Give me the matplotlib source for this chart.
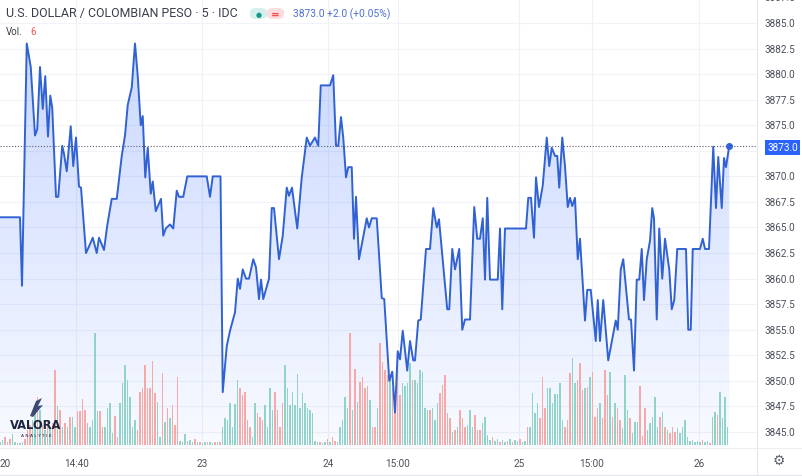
import matplotlib
matplotlib.use('Agg')
import matplotlib.pyplot as plt
import numpy as np
from matplotlib.patches import FancyBboxPatch, Polygon, Rectangle
from matplotlib.lines import Line2D
import matplotlib.transforms as mtransforms

# ---------------- data ----------------
title = "U.S. DOLLAR / COLOMBIAN PESO · 5 · IDC"
last_text = "3873.0 +2.0 (+0.05%)"
last_price = 3873.0

# line vertices: bar index, price
price_x = [0.0, 8.0, 8.8, 10.7, 12.3, 14.0, 14.9, 16.0, 17.1, 18.1, 19.2, 20.1, 20.9, 22.4, 23.3,
           24.9, 25.6, 26.7, 28.3, 29.3, 30.4, 31.6, 32.4, 34.4, 35.7, 37.1, 38.7, 39.6, 41.6, 42.9,
           44.7, 46.7, 48.7, 50.0, 51.1, 52.7, 54.0, 55.1, 56.3, 57.1, 58.1, 59.1, 60.3, 61.1, 62.3,
           64.4, 65.3, 66.3, 68.0, 69.3, 70.7, 71.6, 73.3, 74.9, 82.7, 84.0, 85.1, 88.2, 89.1, 90.7,
           92.0, 94.0, 95.1, 96.0, 97.1, 98.4, 99.6, 101.3, 102.4, 103.6, 104.4, 105.3, 107.6, 108.7,
           109.6, 111.6, 113.1, 114.7, 115.6, 116.8, 118.9, 120.7, 122.7, 124.0, 126.0, 127.3, 128.3,
           132.0, 133.3, 134.4, 135.3, 136.4, 137.3, 138.4, 139.3, 140.7, 141.6, 142.4, 143.6, 146.7,
           147.6, 148.7, 150.7, 152.7, 153.7, 155.7, 156.9, 158.0, 159.1, 160.0, 161.1, 162.9, 164.0,
           165.3, 166.0, 167.3, 168.3, 170.4, 172.0, 173.3, 174.7, 175.6, 178.9, 179.7, 180.9, 182.0,
           183.7, 184.9, 186.0, 188.0, 189.7, 190.9, 192.0, 193.1, 194.0, 194.9, 196.0, 199.1, 200.0,
           200.9, 202.0, 210.4, 211.3, 212.4, 213.6, 214.4, 215.6, 217.1, 218.7, 219.7, 220.7, 222.0,
           222.9, 223.7, 224.9, 226.0, 227.1, 228.0, 228.9, 230.0, 231.1, 232.0, 234.0, 234.9, 236.3,
           238.3, 239.1, 240.0, 241.3, 243.3, 246.3, 247.1, 248.3, 249.3, 251.6, 252.4, 253.6, 254.7,
           255.7, 256.7, 257.6, 258.7, 260.0, 260.9, 261.6, 262.7, 263.7, 264.9, 266.0, 267.7, 268.7,
           269.7, 270.9, 274.4, 275.3, 276.3, 277.1, 280.0, 281.1, 282.0, 283.6, 285.3, 286.4, 287.3,
           288.7, 289.6, 290.4, 291.7]
price_y = [3866.0, 3866.0, 3859.3, 3883.0, 3880.7, 3874.0, 3874.6, 3880.7, 3876.6, 3879.8, 3873.9,
           3877.9, 3876.7, 3868.0, 3868.0, 3873.0, 3872.2, 3870.5, 3874.9, 3871.0, 3873.8, 3869.0,
           3868.9, 3862.5, 3863.2, 3864.0, 3862.5, 3864.0, 3862.8, 3865.2, 3867.8, 3867.8, 3872.0,
           3874.0, 3877.0, 3878.7, 3883.0, 3879.8, 3875.0, 3875.9, 3869.9, 3872.8, 3868.3, 3869.5,
           3866.6, 3867.8, 3864.2, 3864.9, 3865.3, 3864.9, 3868.6, 3868.0, 3868.0, 3870.0, 3870.0,
           3868.0, 3870.0, 3870.0, 3848.9, 3853.4, 3854.9, 3856.7, 3860.0, 3859.0, 3860.9, 3860.0,
           3860.0, 3861.9, 3861.1, 3858.0, 3859.9, 3858.0, 3860.0, 3866.9, 3866.9, 3861.9, 3864.2,
           3868.9, 3868.1, 3868.9, 3864.9, 3869.9, 3873.8, 3873.0, 3873.8, 3873.0, 3878.9, 3878.9,
           3879.9, 3873.0, 3873.0, 3875.8, 3873.8, 3869.9, 3870.9, 3870.9, 3863.9, 3868.0, 3861.9,
           3865.9, 3865.0, 3865.9, 3865.9, 3858.1, 3858.0, 3850.0, 3850.9, 3846.9, 3852.9, 3852.1,
           3854.9, 3851.0, 3853.9, 3852.0, 3852.0, 3855.9, 3856.0, 3862.9, 3862.9, 3866.9, 3865.0,
           3865.8, 3857.0, 3857.0, 3862.9, 3860.9, 3862.9, 3855.0, 3856.0, 3856.0, 3867.0, 3863.9,
           3863.9, 3865.9, 3859.9, 3867.9, 3859.9, 3859.9, 3864.9, 3857.0, 3864.9, 3864.9, 3867.9,
           3867.9, 3864.0, 3869.9, 3867.0, 3869.1, 3873.8, 3871.0, 3872.8, 3872.0, 3872.0, 3868.9,
           3873.8, 3871.0, 3867.0, 3867.9, 3867.1, 3867.9, 3861.9, 3863.9, 3855.9, 3858.9, 3858.9,
           3853.9, 3857.9, 3853.9, 3857.9, 3852.0, 3855.9, 3855.0, 3860.9, 3861.9, 3856.0, 3856.0,
           3851.0, 3859.9, 3859.9, 3862.9, 3857.9, 3861.9, 3863.7, 3866.9, 3865.9, 3856.0, 3864.9,
           3860.0, 3863.9, 3860.9, 3857.0, 3857.9, 3862.9, 3862.9, 3855.0, 3855.0, 3862.9, 3862.9,
           3863.9, 3862.9, 3862.9, 3872.9, 3866.9, 3871.9, 3866.9, 3871.8, 3870.9, 3873.0]

# volume per bar (bar index = position in list)
volume = [3, 5, 8, 3, 6, 11, 3, 2, 2, 3, 6,
          15, 20, 25, 40, 48, 35, 20, 15, 25, 18, 22,
          75, 39, 35, 18, 22, 18, 28, 28, 18, 34, 34, 46, 35, 22, 18,
          25, 112, 34, 34, 18, 18, 37, 42, 12, 29,
          8, 42, 62, 80, 65, 48, 18, 25, 15, 53, 57, 80, 57, 57,
          84, 52, 43, 8, 72, 23, 37, 27, 40, 20, 68,
          4, 3, 11, 4, 5, 3, 6, 3, 3, 2, 3, 3, 3, 2, 3, 3, 3,
          18, 27, 25, 42, 18, 41, 65, 57, 50, 53, 25, 18, 8,
          42, 32, 28, 25, 40, 18, 57, 35, 53, 35, 18,
          42, 80, 57, 40, 53, 40, 71, 37, 52, 42, 37, 35, 32,
          4, 3, 3, 2, 3, 6, 3, 8, 4, 3,
          18, 25, 48, 37, 112, 35, 76, 43, 63, 68, 57, 59, 45, 18,
          18, 37, 102, 83, 75, 70, 68, 57, 45, 82, 50, 62, 59, 62, 82, 65, 65, 62, 75, 73,
          37, 35, 35, 37, 25, 42, 52, 60, 70, 32, 27, 13, 15, 18, 35, 27, 18, 20, 35, 18, 30, 15, 15, 22, 28,
          10, 5, 8, 4, 6, 3, 5, 3, 4, 6, 3, 5, 4, 6, 3, 4,
          18, 18, 52, 32, 42, 27, 68, 37, 57, 57, 42, 51, 51, 62,
          25, 18, 25, 72, 87, 62, 65, 82, 55, 57, 58, 68, 73, 28, 37,
          42, 27, 75, 50, 73, 28, 42, 37, 25, 17, 70, 35, 27,
          12, 23, 23, 59, 9, 37, 15, 22, 28, 48, 18, 28, 33, 18, 15, 12, 18, 13, 17, 12, 18, 25,
          8, 4, 5, 3, 4, 3, 5, 3, 4, 2,
          28, 33, 30, 53, 27, 48, 18]
# bar direction (u = up / teal, d = down / red), in groups
vol_dir_groups = ["uududuuduud", "ddu", "udu", "dudud",
                  "dudududuuddddduu", "uuddu uuudd", "uuuuuuudddddddd",
                  "uudududdduu", "udu udu du udu udu d",
                  "uuuuuuudddddu", "uddduuuudddd", "uuuuuuuuuuuuu",
                  "uduududduu", "uuudududdddudd",
                  "udddduddddu uuuduuuuu",
                  "udu uudddddu dudddu uu dddu uu",
                  "uduudu udu duudu uduu",
                  "uudddu uuuuu uddd",
                  "uudddu duddd uddd",
                  "ududduuudu uu",
                  "ddduuuuud udu dddu uu uuuuuu",
                  "uduuduudu u",
                  "uuududdd"]
vol_dir = "".join(vol_dir_groups).replace(" ", "")

tick_pos = [2.0, 30.6, 80.8, 131.2, 159.2, 207.6, 236.8, 279.6]
tick_labels = ["20", "14:40", "23", "24", "15:00", "25", "15:00", "26"]
price_ticks = [3845.0 + 2.5 * k for k in range(18)]

# ---------------- layout ----------------
W, H = 803, 477
fig = plt.figure(figsize=(W / 100, H / 100), dpi=100)
fig.patch.set_facecolor('white')

def fx(x):
    return x / W

def fy(y):
    return 1 - y / H

rect = [0, (H - 448) / H, 757 / W, 448 / H]
ax_fill = fig.add_axes(rect)
ax_vol = fig.add_axes(rect, sharex=ax_fill)
ax = fig.add_axes(rect, sharex=ax_fill, sharey=ax_fill)
for a in (ax_vol, ax):
    a.patch.set_visible(False)
for a in (ax_fill, ax_vol, ax):
    for s in a.spines.values():
        s.set_visible(False)
    a.tick_params(length=0, labelleft=False, labelbottom=False)
    a.set_yticks([])

XMAX = 302.8
YLO, YHI = 3843.53, 3887.35
ax_fill.set_xlim(0, XMAX)
ax_fill.set_ylim(YLO, YHI)

# grid
for t in tick_pos[1:]:
    ax_fill.axvline(t, color='#eef1f7', lw=0.8, zorder=0)
for p in price_ticks:
    ax_fill.axhline(p, color='#f1f3f8', lw=0.8, zorder=0)

# gradient area under line
px_arr = np.array(price_x)
py_arr = np.array(price_y)
n = 256
alpha = np.linspace(0.25, 0.03, n).reshape(-1, 1)
rgba = np.zeros((n, 1, 4))
rgba[..., 0] = 41 / 255
rgba[..., 1] = 98 / 255
rgba[..., 2] = 1.0
rgba[..., 3] = alpha
im = ax_fill.imshow(rgba, extent=[px_arr[0], px_arr[-1], YLO, max(price_y)],
                    origin='upper', aspect='auto', zorder=1, interpolation='bilinear')
poly = Polygon(np.column_stack([np.r_[px_arr[0], px_arr, px_arr[-1]],
                                np.r_[YLO, py_arr, YLO]]),
               closed=True, facecolor='none', edgecolor='none',
               transform=ax_fill.transData)
ax_fill.add_patch(poly)
im.set_clip_path(poly)
ax_fill.set_xlim(0, XMAX)
ax_fill.set_ylim(YLO, YHI)

# volume
nb = min(len(volume), len(vol_dir))
vx = np.arange(nb)
vcol = ['#8fd3c9' if vol_dir[i] == 'u' else '#f6a9a7' for i in range(nb)]
ax_vol.bar(vx, volume[:nb], width=0.5, color=vcol, linewidth=0, zorder=2)
ax_vol.set_ylim(-2, 446)
ax_vol.set_yticks([])

# price line
ax.plot(price_x, price_y, color='#3162d4', lw=1.4, zorder=5, solid_joinstyle='round')
ax.plot([price_x[-1]], [price_y[-1]], 'o', ms=4, color='#3162d4', zorder=6)
ax.axhline(last_price, color='#5d606b', lw=0.8, ls=(0, (1, 1.6)), zorder=4)

# right axis labels
trans = mtransforms.blended_transform_factory(ax.transAxes, ax.transData)
for p in price_ticks:
    ax.text(1 + 8 / 757, p, f"{p:.1f}", transform=trans, ha='left', va='center',
            fontsize=7.2, color='#4c505b', family='Roboto', clip_on=False)

# last price tag
fig.patches.append(Rectangle((fx(765), fy(155.5)), 35 / W, 14.5 / H, transform=fig.transFigure,
                             facecolor='#2962ff', edgecolor='none', zorder=10))
fig.text(fx(782.5), fy(148.3), "3873.0", ha='center', va='center', fontsize=7.2,
         color='white', family='Roboto', zorder=11)

# x tick labels
xtrans = mtransforms.blended_transform_factory(ax.transData, ax.transAxes)
for t, lab in zip(tick_pos, tick_labels):
    ax.text(t, -0.035, lab, transform=xtrans,
            ha='center', va='center', fontsize=7.2, color='#4c505b', family='Roboto', clip_on=False)

# separators
fig.lines.append(Line2D([fx(757.5), fx(757.5)], [0, 1], transform=fig.transFigure,
                        color='#e3e6ec', lw=0.8))
fig.lines.append(Line2D([0, 1], [fy(448.5), fy(448.5)], transform=fig.transFigure,
                        color='#eceef2', lw=0.8))
fig.lines.append(Line2D([0, 1], [fy(475.5), fy(475.5)], transform=fig.transFigure,
                        color='#e3e6ec', lw=0.8))

# header
fig.text(fx(6), fy(14), title, ha='left', va='center', fontsize=8.95, color='#3a3e49', family='Roboto')
fig.patches.append(FancyBboxPatch((fx(250), fy(20)), 17 / W, 11 / H, boxstyle='round,pad=0,rounding_size=0.008',
                                  transform=fig.transFigure, facecolor='#d5f0ec', edgecolor='none'))
fig.patches.append(FancyBboxPatch((fx(267), fy(20)), 17 / W, 11 / H, boxstyle='round,pad=0,rounding_size=0.008',
                                  transform=fig.transFigure, facecolor='#fbdde0', edgecolor='none'))
fig.text(fx(258.5), fy(14.5), "●", ha='center', va='center', fontsize=5, color='#159a88', family='DejaVu Sans')
fig.text(fx(275.5), fy(14.5), "=", ha='center', va='center', fontsize=7.5, color='#ef5350',
         family='DejaVu Sans', weight='bold')
fig.text(fx(293), fy(14.5), last_text, ha='left', va='center', fontsize=7.4, color='#4f6fd6', family='Roboto')
fig.text(fx(6), fy(32), "Vol.", ha='left', va='center', fontsize=7, color='#3a3e49', family='Roboto')
fig.text(fx(30), fy(32), "6", ha='left', va='center', fontsize=7, color='#ef5350', family='Roboto')

# logo
fig.text(fx(36), fy(426), "VALORA", ha='center', va='center', fontsize=8.3, color='#1d2640',
         family='DejaVu Sans', weight='bold')
fig.text(fx(36), fy(436.5), "A N A L Y T I K", ha='center', va='center', fontsize=3.2, color='#1d2640',
         family='DejaVu Sans')
logo_pts = [(30, 417), (36, 402), (42, 399), (38, 407), (43, 406), (37, 413), (33, 418)]
fig.patches.append(Polygon([(fx(a), fy(b)) for a, b in logo_pts], closed=True, transform=fig.transFigure,
                           facecolor='#2b3a66', edgecolor='none', alpha=0.9))

# gear
fig.text(fx(779), fy(461), "⚙", ha='center', va='center', fontsize=10, color='#5d606b', family='DejaVu Sans')

fig.savefig('out.png', dpi=100, facecolor='white')
